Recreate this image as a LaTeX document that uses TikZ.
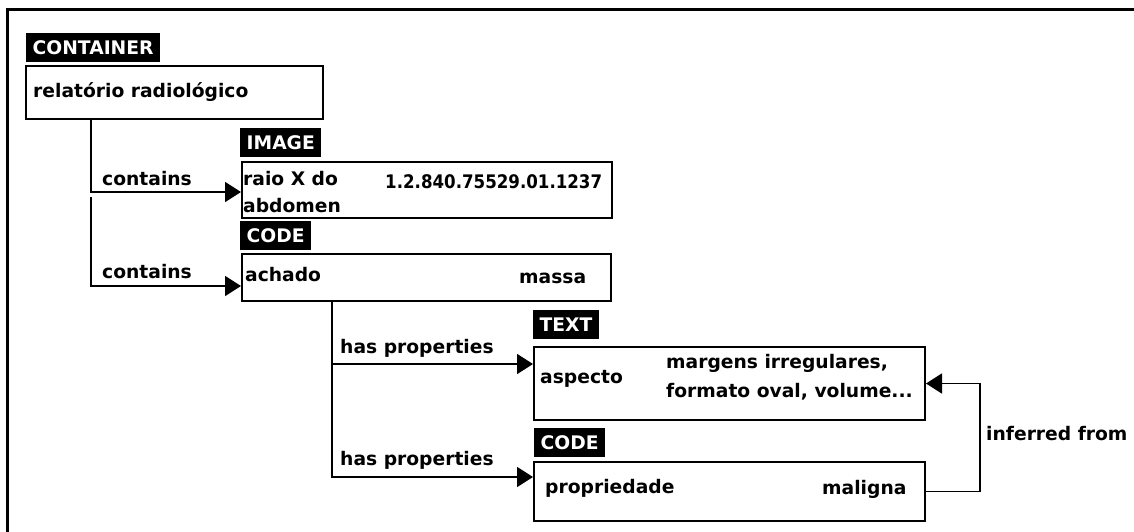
\documentclass[tikz,border=0pt]{standalone}
\usepackage{fontspec}
\setmainfont{DejaVu Sans}
\usetikzlibrary{arrows.meta,calc}
\begin{document}
\begin{tikzpicture}[x=1pt,y=-1pt,
  every node/.style={font=\fontsize{18.7}{22}\selectfont\bfseries},
  box/.style={draw=black,line width=2pt,anchor=north west,inner sep=0pt},
  tag/.style={fill=black,text=white,anchor=south west,inner xsep=6.5pt,inner ysep=0pt,minimum height=29pt},
  lbl/.style={anchor=base west,inner sep=0pt},
  conn/.style={line width=1.7pt,-{Triangle[length=16pt,width=20pt]}}]
\useasboundingbox (0,0) rectangle (1134,531);
\fill[white] (0,0) rectangle (1134,531);
% frame
\draw[line width=3pt] (7.5,535) -- (7.5,9.5) -- (1140,9.5);

% boxes
\node[box,minimum width=297pt,minimum height=53pt] (rel) at (25,65) {};
\node[box,minimum width=370pt,minimum height=56pt] (img) at (241,161) {};
\node[box,minimum width=369pt,minimum height=47pt] (code1) at (241,253) {};
\node[box,minimum width=391pt,minimum height=73pt] (txt) at (533,346) {};
\node[box,minimum width=391pt,minimum height=59pt] (code2) at (533,461) {};

% type tags
\node[tag] (tagcont) at (26,62) {CONTAINER};
\node[tag] (tagimg) at (240,157) {IMAGE};
\node[tag] (tagcode1) at (240,250) {CODE};
\node[tag] (tagtxt) at (533,339) {TEXT};
\node[tag] (tagcode2) at (534,457) {CODE};

% box contents
\node[lbl] (relname) at (33,97) {relatório radiológico};
\node[lbl] (imgname1) at (243,185) {raio X do};
\node[lbl] (imgname2) at (243,212) {abdomen};
\node[lbl] (imgval) at (385,188) {\scalebox{0.89}[1]{1.2.840.75529.01.1237}};
\node[lbl] (code1name) at (245,281) {achado};
\node[lbl] (code1val) at (519,283) {massa};
\node[lbl] (txtname) at (540,383) {aspecto};
\node[lbl] (txtval1) at (666,368) {margens irregulares,};
\node[lbl] (txtval2) at (666,397) {formato oval, volume...};
\node[lbl] (code2name) at (545,493) {propriedade};
\node[lbl] (code2val) at (822,494) {maligna};

% connector labels
\node[lbl] (lc1) at (102,185) {contains};
\node[lbl] (lc2) at (102,278) {contains};
\node[lbl] (lh1) at (340,353) {has properties};
\node[lbl] (lh2) at (340,465) {has properties};
\node[lbl] (linf) at (986,440) {inferred from};

% connector routing points
\coordinate (j1) at (91,192);
\coordinate (s2) at (91,197);
\coordinate (j2) at (91,286);
\coordinate (k0) at (332,0);
\coordinate (k1) at (332,364);
\coordinate (k2) at (332,477);
\coordinate (bend) at ($(txt.east)+(54,0)$);

\draw[conn] (rel.south -| j1) |- (img.west |- j1);
\draw[conn] (s2) |- (code1.west |- j2);
\draw[conn] (code1.south -| k0) |- (txt.west |- k1);
\draw[conn] (code1.south -| k0) |- (code2.west |- k2);
\draw[conn] (code2.east) -| (bend) -- (txt.east);
\end{tikzpicture}
\end{document}
